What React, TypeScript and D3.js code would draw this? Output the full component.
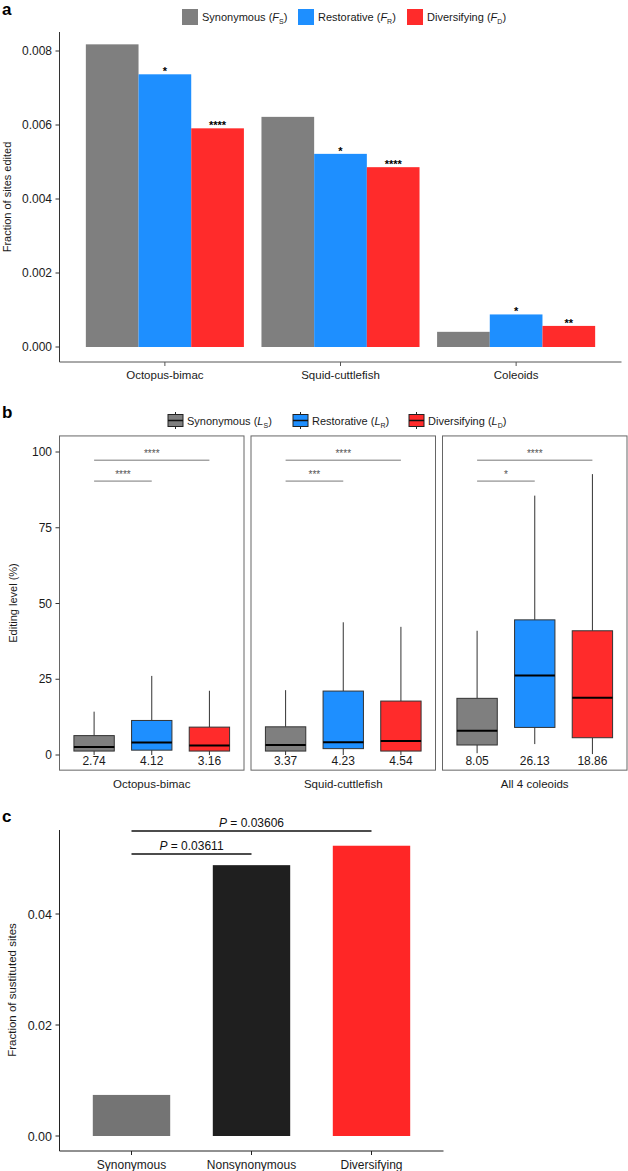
import React from "react";
import * as d3 from "d3";

// ---------- Panel a data ----------
const groupsA = ["Octopus-bimac", "Squid-cuttlefish", "Coleoids"];
const fsValues = [0.00818, 0.00622, 0.00041];
const frValues = [0.00737, 0.00522, 0.00088];
const fdValues = [0.00591, 0.00486, 0.00057];
const frStars = ["*", "*", "*"];
const fdStars = ["****", "****", "**"];
const yTicksA = [0, 0.002, 0.004, 0.006, 0.008];

// ---------- Panel b data ----------
const facetsB = ["Octopus-bimac", "Squid-cuttlefish", "All 4 coleoids"];
// [lower whisker, q1, median, q3, upper whisker]
const lsBoxes = [
  [0, 1.3, 2.6, 6.4, 14.3],
  [0, 1.3, 3.3, 9.3, 21.4],
  [0.6, 3.3, 8.0, 18.7, 41.0],
];
const lrBoxes = [
  [0, 1.6, 4.1, 11.4, 26.1],
  [0, 2.1, 4.2, 21.1, 43.8],
  [3.6, 9.1, 26.2, 44.6, 85.6],
];
const ldBoxes = [
  [0, 1.3, 3.1, 9.2, 21.2],
  [0, 1.3, 4.6, 17.8, 42.3],
  [0.3, 5.7, 18.9, 41.0, 92.7],
];
const lsLabels = ["2.74", "3.37", "8.05"];
const lrLabels = ["4.12", "4.23", "26.13"];
const ldLabels = ["3.16", "4.54", "18.86"];
const sigFar = ["****", "****", "****"];
const sigNear = ["****", "***", "*"];
const sigLevels = [97.3, 90.4];
const yTicksB = [0, 25, 50, 75, 100];

// ---------- Panel c data ----------
const categoriesC = ["Synonymous", "Nonsynonymous", "Diversifying"];
const valuesC = [0.0074, 0.0488, 0.0523];
const yTicksC = [0, 0.02, 0.04];
const pNear = "0.03611";
const pFar = "0.03606";

const seriesColors = ["#7f7f7f", "#1e8fff", "#ff2b2b"];
const colorsC = ["#747474", "#1f1f1f", "#ff2626"];
const FONT = "'Liberation Sans', Arial, Helvetica, sans-serif";
const TXT = "#1a1a1a";

function LegendLabel({ name, sym, sub }: { name: string; sym: string; sub: string }) {
  return (
    <>
      <tspan>{name} (</tspan>
      <tspan fontStyle="italic">{sym}</tspan>
      <tspan fontSize={7} dy={3}>{sub}</tspan>
      <tspan dy={-3}>)</tspan>
    </>
  );
}

export default function App() {
  // ---- Panel a scales ----
  const xA = d3.scaleLinear().domain([0.4, 3.6]).range([59.5, 621.5]);
  const yA = d3.scaleLinear().domain([0, 0.008]).range([347, 51]);
  const unitA = xA(2) - xA(1);
  const barW = unitA * 0.3;
  const seriesA = [fsValues, frValues, fdValues];
  const starsA = [null, frStars, fdStars];

  // ---- Panel b scales ----
  const yB = d3.scaleLinear().domain([0, 100]).range([755, 452]);
  const facetX0 = [59.5, 251, 442.5];
  const facetW = 184.5;
  const boxesB = [lsBoxes, lrBoxes, ldBoxes];
  const labelsB = [lsLabels, lrLabels, ldLabels];

  // ---- Panel c scales ----
  const xC = d3.scaleLinear().domain([0.4, 3.6]).range([59.5, 443.5]);
  const yC = d3.scaleLinear().domain([0, 0.04]).range([1136, 914]);
  const unitC = xC(2) - xC(1);
  const barWC = unitC * 0.645;

  return (
    <svg
      width={628}
      height={1171}
      style={{ position: "absolute", left: 0, top: 0, background: "#fff" }}
      fontFamily={FONT}
    >
      <rect x={0} y={0} width={628} height={1171} fill="#fff" />

      {/* ================= Panel a ================= */}
      <text x={2} y={15} fontSize={17} fontWeight="bold" fill="#000">a</text>
      {/* legend */}
      {[
        ["Synonymous", "F", "S", 182],
        ["Restorative", "F", "R", 298],
        ["Diversifying", "F", "D", 407],
      ].map((d, i) => (
        <g key={i}>
          <rect x={d[3] as number} y={9} width={16} height={16} fill={seriesColors[i]} />
          <text x={(d[3] as number) + 20} y={21} fontSize={11} fill={TXT}>
            <LegendLabel name={d[0] as string} sym={d[1] as string} sub={d[2] as string} />
          </text>
        </g>
      ))}
      {/* bars */}
      {groupsA.map((g, gi) =>
        seriesA.map((vals, si) => {
          const cx = xA(gi + 1) + (si - 1) * barW;
          const top = yA(vals[gi]);
          const stars = starsA[si];
          return (
            <g key={`${gi}-${si}`}>
              <rect x={cx - barW / 2} y={top} width={barW} height={yA(0) - top} fill={seriesColors[si]} />
              {stars && (
                <text x={cx} y={top + 1} fontSize={11} fontWeight="bold" textAnchor="middle" fill="#000">
                  {stars[gi]}
                </text>
              )}
            </g>
          );
        })
      )}
      {/* axes */}
      <line x1={59.5} x2={59.5} y1={32} y2={362} stroke="#333" strokeWidth={1} />
      <line x1={59.5} x2={621.5} y1={362} y2={362} stroke="#555" strokeWidth={1} />
      {yTicksA.map((t) => (
        <g key={t}>
          <line x1={55.5} x2={59.5} y1={yA(t)} y2={yA(t)} stroke="#333" />
          <text x={52} y={yA(t) + 4} fontSize={12} textAnchor="end" fill={TXT}>
            {d3.format(".3f")(t)}
          </text>
        </g>
      ))}
      {groupsA.map((g, gi) => (
        <g key={g}>
          <line x1={xA(gi + 1)} x2={xA(gi + 1)} y1={362} y2={366} stroke="#555" />
          <text x={xA(gi + 1)} y={379} fontSize={11.5} textAnchor="middle" fill={TXT}>{g}</text>
        </g>
      ))}
      <text
        transform={`translate(11,197) rotate(-90)`}
        fontSize={11}
        textAnchor="middle"
        fill={TXT}
      >
        Fraction of sites edited
      </text>

      {/* ================= Panel b ================= */}
      <text x={2} y={418} fontSize={17} fontWeight="bold" fill="#000">b</text>
      {[
        ["Synonymous", "L", "S", 168],
        ["Restorative", "L", "R", 293],
        ["Diversifying", "L", "D", 409],
      ].map((d, i) => {
        const x0 = d[3] as number;
        return (
          <g key={i}>
            <line x1={x0 + 7.5} x2={x0 + 7.5} y1={412} y2={429} stroke="#222" />
            <rect x={x0} y={414.5} width={15} height={12} fill={seriesColors[i]} stroke="#222" />
            <line x1={x0} x2={x0 + 15} y1={420.5} y2={420.5} stroke="#111" strokeWidth={1.5} />
            <text x={x0 + 19} y={425} fontSize={11} fill={TXT}>
              <LegendLabel name={d[0] as string} sym={d[1] as string} sub={d[2] as string} />
            </text>
          </g>
        );
      })}
      {facetsB.map((f, fi) => {
        const xB = d3
          .scaleLinear()
          .domain([0.4, 3.6])
          .range([facetX0[fi], facetX0[fi] + facetW]);
        const unit = xB(2) - xB(1);
        const bw = unit * 0.7;
        return (
          <g key={f}>
            {boxesB.map((series, si) => {
              const [lo, q1, med, q3, hi] = series[fi];
              const cx = xB(si + 1);
              return (
                <g key={si}>
                  <line x1={cx} x2={cx} y1={yB(q3)} y2={yB(hi)} stroke="#333" />
                  <line x1={cx} x2={cx} y1={yB(q1)} y2={yB(lo)} stroke="#333" />
                  <rect
                    x={cx - bw / 2}
                    y={yB(q3)}
                    width={bw}
                    height={yB(q1) - yB(q3)}
                    fill={seriesColors[si]}
                    stroke="#333"
                    strokeWidth={1}
                  />
                  <line x1={cx - bw / 2} x2={cx + bw / 2} y1={yB(med)} y2={yB(med)} stroke="#000" strokeWidth={2} />
                  <text x={cx} y={765} fontSize={12} textAnchor="middle" fill={TXT}>
                    {labelsB[si][fi]}
                  </text>
                </g>
              );
            })}
            {/* significance */}
            <line x1={xB(1)} x2={xB(3)} y1={yB(sigLevels[0])} y2={yB(sigLevels[0])} stroke="#555" strokeWidth={0.8} />
            <text x={(xB(1) + xB(3)) / 2} y={yB(sigLevels[0]) - 3} fontSize={10} textAnchor="middle" fill="#555">
              {sigFar[fi]}
            </text>
            <line x1={xB(1)} x2={xB(2)} y1={yB(sigLevels[1])} y2={yB(sigLevels[1])} stroke="#555" strokeWidth={0.8} />
            <text x={(xB(1) + xB(2)) / 2} y={yB(sigLevels[1]) - 3} fontSize={10} textAnchor="middle" fill="#555">
              {sigNear[fi]}
            </text>
            <rect
              x={facetX0[fi]}
              y={yB(105.3)}
              width={facetW}
              height={yB(-5) - yB(105.3)}
              fill="none"
              stroke="#666"
              strokeWidth={1}
            />
            <text x={xB(2)} y={788} fontSize={11.5} textAnchor="middle" fill={TXT}>{f}</text>
          </g>
        );
      })}
      {yTicksB.map((t) => (
        <g key={t}>
          <line x1={55.5} x2={59.5} y1={yB(t)} y2={yB(t)} stroke="#333" />
          <text x={52} y={yB(t) + 4} fontSize={12} textAnchor="end" fill={TXT}>{t}</text>
        </g>
      ))}
      <text transform={`translate(17,603) rotate(-90)`} fontSize={11} textAnchor="middle" fill={TXT}>
        Editing level (%)
      </text>

      {/* ================= Panel c ================= */}
      <text x={2} y={822} fontSize={17} fontWeight="bold" fill="#000">c</text>
      {categoriesC.map((c, i) => {
        const cx = xC(i + 1);
        const top = yC(valuesC[i]);
        return (
          <g key={c}>
            <rect x={cx - barWC / 2} y={top} width={barWC} height={yC(0) - top} fill={colorsC[i]} />
            <line x1={cx} x2={cx} y1={1151} y2={1155} stroke="#222" />
            <text x={cx} y={1169} fontSize={12} textAnchor="middle" fill={TXT}>{c}</text>
          </g>
        );
      })}
      <line x1={59.5} x2={59.5} y1={830} y2={1151} stroke="#222" />
      <line x1={59.5} x2={443.5} y1={1151} y2={1151} stroke="#222" />
      {yTicksC.map((t) => (
        <g key={t}>
          <line x1={55.5} x2={59.5} y1={yC(t)} y2={yC(t)} stroke="#222" />
          <text x={52} y={yC(t) + 4.5} fontSize={12.5} textAnchor="end" fill={TXT}>
            {d3.format(".2f")(t)}
          </text>
        </g>
      ))}
      {/* p-value brackets */}
      <line x1={xC(1)} x2={xC(3)} y1={831} y2={831} stroke="#111" strokeWidth={1.6} />
      <text x={(xC(1) + xC(3)) / 2} y={827} fontSize={12} textAnchor="middle" fill="#111">
        <tspan fontStyle="italic">P</tspan> = {pFar}
      </text>
      <line x1={xC(1)} x2={xC(2)} y1={854} y2={854} stroke="#111" strokeWidth={1.6} />
      <text x={(xC(1) + xC(2)) / 2} y={850} fontSize={12} textAnchor="middle" fill="#111">
        <tspan fontStyle="italic">P</tspan> = {pNear}
      </text>
      <text transform={`translate(16,990) rotate(-90)`} fontSize={11.5} textAnchor="middle" fill={TXT}>
        Fraction of sustituted sites
      </text>
    </svg>
  );
}
